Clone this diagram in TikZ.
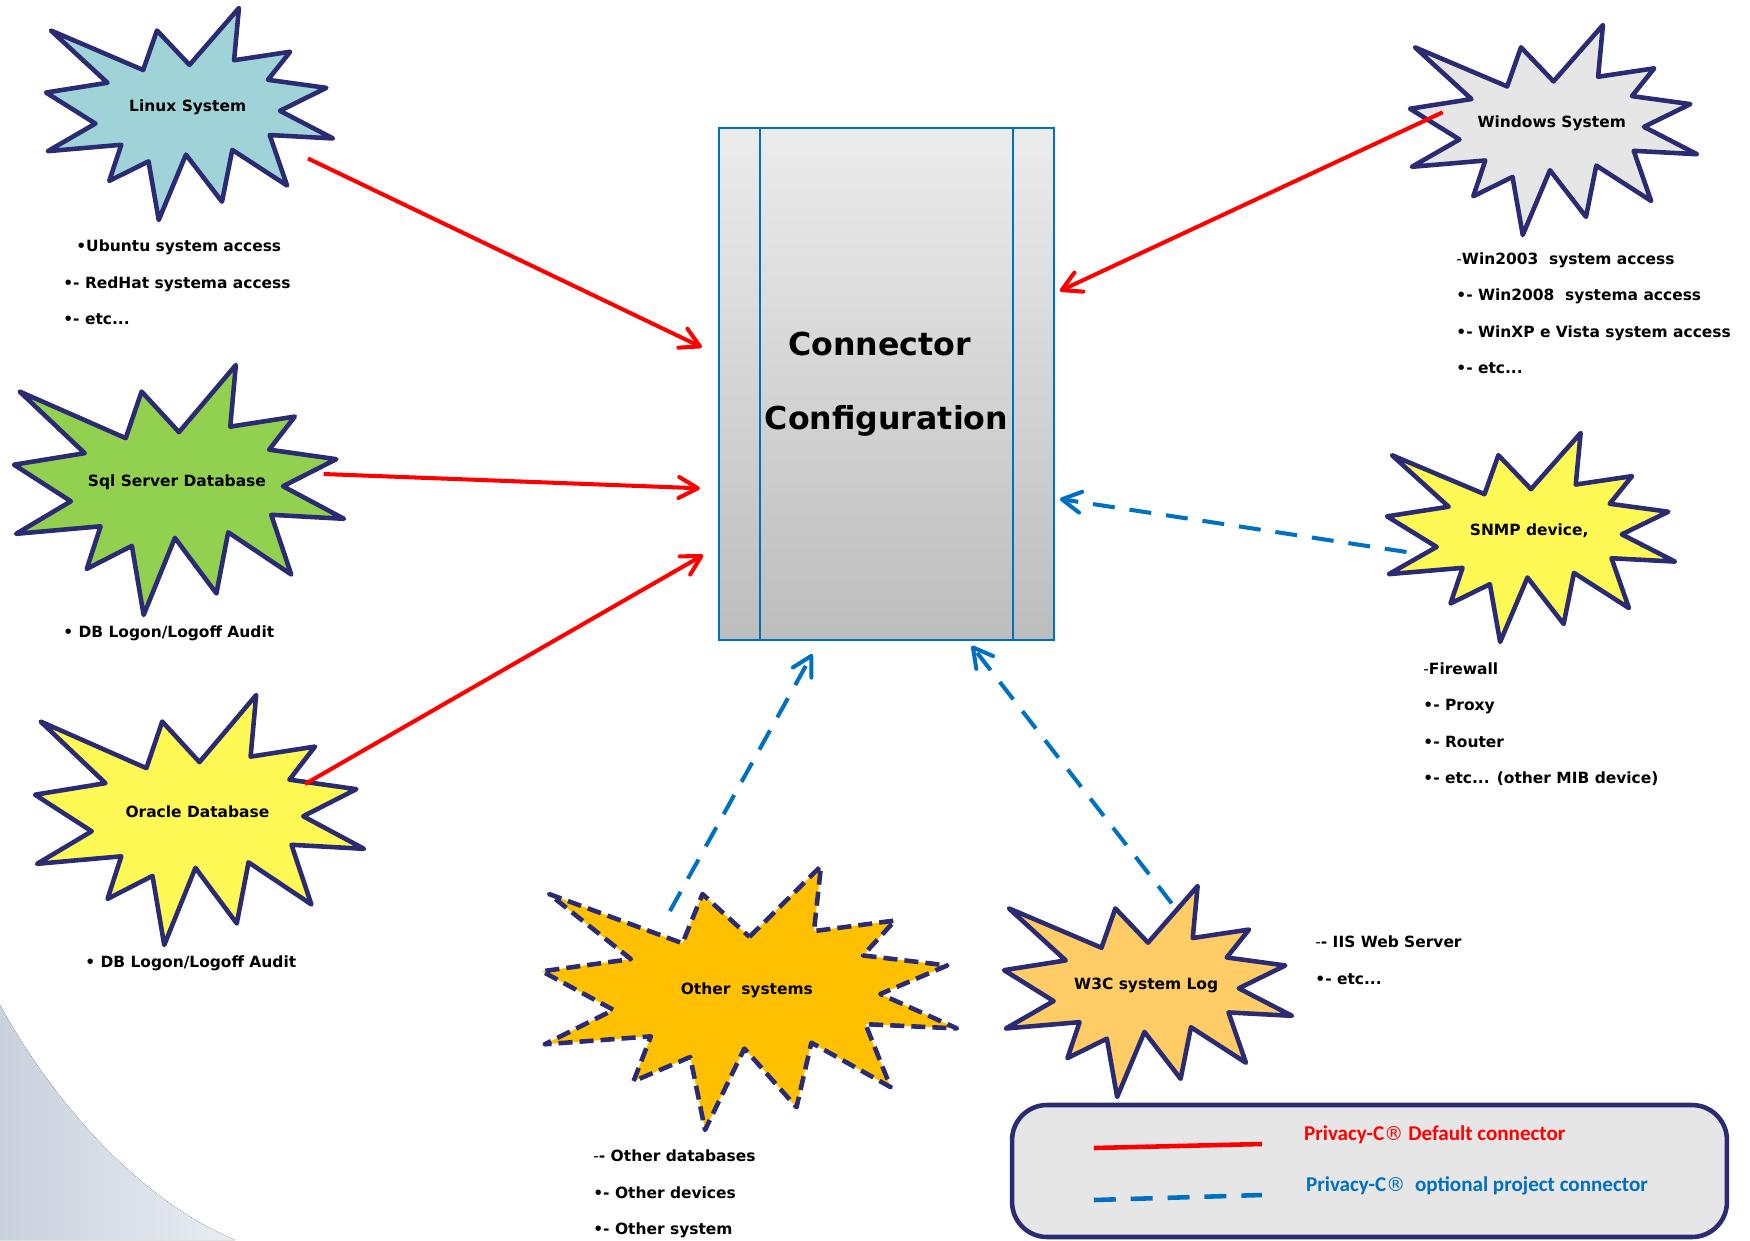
\documentclass[tikz,border=0pt]{standalone}
\usepackage{fontspec}
\setmainfont{DejaVu Sans}
\newfontfamily\legendfont{Carlito}
\newfontfamily\regfont{DejaVu Sans}
\usetikzlibrary{arrows.meta,calc}
\definecolor{sealline}{HTML}{2B2B73}
\definecolor{linuxfill}{HTML}{9FD3D8}
\definecolor{sqlfill}{HTML}{92D050}
\definecolor{yellowfill}{HTML}{FFF955}
\definecolor{winfill}{HTML}{E6E6E6}
\definecolor{otherfill}{HTML}{FFC000}
\definecolor{wfill}{HTML}{FFCC66}
\definecolor{connblue}{HTML}{0070C0}
\definecolor{defred}{HTML}{FF0000}
\definecolor{boxtop}{HTML}{ECECEC}
\definecolor{boxbottom}{HTML}{BDBDBD}
\definecolor{legendgrey}{HTML}{E6E6E6}
\definecolor{swooshdark}{HTML}{C9D1DD}
\definecolor{swooshlight}{HTML}{E9EDF3}
\newcommand{\reg}{{\regfont\mdseries\fontsize{11}{12}\selectfont ®}}
\tikzset{
    burst/.style = {draw=sealline, line width=2.6pt, line join=round},
    bursttext/.style = {font=\bfseries\fontsize{8.8}{10}\selectfont, inner sep=1pt},
    notes/.style = {font=\bfseries\fontsize{8.8}{20.8}\selectfont, align=left,
        anchor=west, inner sep=0pt},
    cfgbox/.style = {draw=connblue, line width=1pt, top color=boxtop, bottom color=boxbottom,
        minimum width=6.7cm, minimum height=10.24cm, align=center,
        font=\bfseries\fontsize{18}{42}\selectfont},
    defconn/.style = {draw=defred, line width=2.3pt, ->},
    optconn/.style = {draw=connblue, line width=2.3pt, dash pattern=on 12.5pt off 8.5pt, ->},
    legendbox/.style = {draw=sealline, line width=2.6pt, fill=legendgrey,
        rounded corners=0.7cm, minimum width=14.3cm, minimum height=2.64cm},
    legendtext/.style = {font=\legendfont\bfseries\fontsize{12}{14}\selectfont,
        anchor=west, inner sep=0pt},
    swoosh/.style = {left color=swooshdark, right color=swooshlight}
}
% #1 name, #2 left, #3 top, #4 width, #5 height, #6 style, #7 text
\newcommand{\burst}[7]{%
  \path[burst, #6, shift={(#2,#3)}, xscale=#4/216, yscale=#5/216]
    (108,58) -- (145.22,0) -- (141.55,53.25) -- (183.8,44.57) -- (167.02,73.15)
    -- (210.97,81.37) -- (176.07,104.75) -- (216,132.9) -- (168.37,129.42)
    -- (181.45,180.95) -- (140.2,144.57) -- (132.47,197.37) -- (105.32,149.35)
    -- (84.85,216) -- (77.15,156.27) -- (47.62,176.17) -- (56.67,139.37)
    -- (1.35,145.87) -- (37.22,117.75) -- (0,86.15) -- (46.27,76.17)
    -- (3.7,22.95) -- (73.12,63.2) -- (83.52,22.95) -- cycle;
  \node[bursttext] (#1) at ({#2+0.4937*#4},{#3+0.4689*#5}) {#7};}

\begin{document}
\begin{tikzpicture}[x=0.02cm, y=-0.02cm, >={Straight Barb[length=0.38cm, width=0.42cm, round]}]
    \path[use as bounding box, fill=white] (0,0) rectangle (1750,1240);
    \fill[swoosh] (0,1005) .. controls (55,1105) and (140,1200) .. (235,1240) -- (0,1240) -- cycle;

    \burst{linux}{46}{8}{287}{212}{fill=linuxfill}{Linux System}
    \burst{sql}{14}{365}{330}{250}{fill=sqlfill}{Sql Server Database}
    \burst{oracle}{35}{695}{329}{250}{fill=yellowfill}{Oracle Database}
    \burst{windows}{1410}{25}{287}{210}{fill=winfill}{Windows System}
    \burst{snmp}{1387}{433}{288}{209}{fill=yellowfill}{SNMP device,}
    \burst{other}{542}{866}{415}{264}{fill=otherfill, dash pattern=on 8pt off 4pt}{Other~ systems}
    \burst{w3c}{1004}{886}{288}{211}{fill=wfill}{W3C system Log}

    \node[notes] (linuxnotes) at (63,282.5) {\hspace*{7.4pt}•Ubuntu system access\\•- RedHat systema access\\•- etc...};
    \node[notes] (sqlnotes) at (63,633.3) {• DB Logon/Logoff Audit};
    \node[notes] (oraclenotes) at (85,963.3) {• DB Logon/Logoff Audit};
    \node[notes] (winnotes) at (1456,313.2) {{\mdseries -}Win2003~ system access\\•- Win2008~ systema access\\•- WinXP e Vista system access\\•- etc...};
    \node[notes] (snmpnotes) at (1423,724.3) {{\mdseries -}Firewall\\•- Proxy\\•- Router\\•- etc... (other MIB device)};
    \node[notes] (othernotes) at (593,1193.9) {{\mdseries -}- Other databases\\•- Other devices\\•- Other system};
    \node[notes] (w3cnotes) at (1315,960) {{\mdseries -}- IIS Web Server\\•- etc...};

    \node[cfgbox] (box) at (886.5,384) {\hspace*{-8pt}Connector\\Configuration};
    \draw[connblue, line width=1pt] ([shift={(42,0)}]box.north west) -- ([shift={(42,0)}]box.south west);
    \draw[connblue, line width=1pt] ([shift={(-42,0)}]box.north east) -- ([shift={(-42,0)}]box.south east);

    \draw[defconn] ([shift={(120.3,51.1)}]linux.center) -- ([shift={(-16.3,-36.7)}]box.west);
    \draw[defconn] ([shift={(146.7,-8.2)}]sql.center) -- ([shift={(-18.3,104.3)}]box.west);
    \draw[defconn] ([shift={(107.6,-28.2)}]oracle.center) -- ([shift={(-15,171)}]box.west);
    \draw[defconn] ([shift={(-109,-11.2)}]windows.center) -- ([shift={(5,-93)}]box.east);
    \draw[optconn] ([shift={(-122.7,21)}]snmp.center) -- ([shift={(5,115)}]box.east);
    \draw[optconn] ([shift={(-76.9,-78.8)}]other.center) -- ([shift={(-74.2,13.3)}]box.south);
    \draw[optconn] ([shift={(25.5,-81.6)}]w3c.center) -- ([shift={(85.2,5)}]box.south);

    \node[legendbox] (legend) at (1369.5,1171) {};
    \draw[defred, line width=2.6pt] ([shift={(84,-23)}]legend.west) -- ([shift={(252,-27)}]legend.west);
    \draw[connblue, line width=2.6pt, dash pattern=on 12.5pt off 8.5pt] ([shift={(84,29)}]legend.west) -- ([shift={(252,24)}]legend.west);
    \node[legendtext, text=defred] (deflabel) at ([shift={(294,-36)}]legend.west) {Privacy-C\reg{} Default connector};
    \node[legendtext, text=connblue] (optlabel) at ([shift={(296,15)}]legend.west) {Privacy-C\reg~ optional project connector};
\end{tikzpicture}
\end{document}
